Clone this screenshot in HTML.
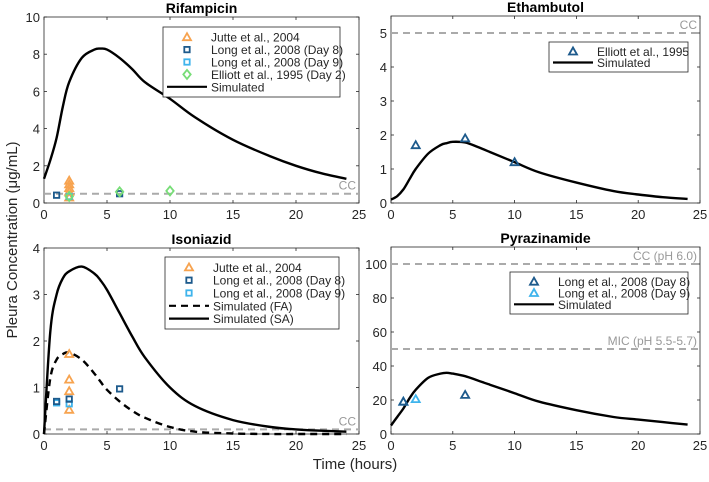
<!DOCTYPE html>
<html><head><meta charset="utf-8"><style>
body{margin:0;background:#fff;}
svg{display:block;font-family:"Liberation Sans",sans-serif;}
</style></head><body>
<svg id="fig" width="709" height="482" viewBox="0 0 709 482"></svg>
<script>
// ---- data ----
const timeGrid = [0,0.5,1,1.5,2,3,4,4.5,5,6,7,8,10,12,15,18,20,22,24];
const rifSim = [1.3,2.3,3.5,5.2,6.5,7.8,8.25,8.3,8.25,7.8,7.2,6.5,5.6,4.6,3.4,2.5,2.0,1.6,1.3];
const embSim = [0.1,0.2,0.4,0.7,1.0,1.45,1.7,1.76,1.8,1.78,1.65,1.5,1.2,0.9,0.6,0.35,0.25,0.17,0.12];
const inhSA  = [0,2.2,3.0,3.35,3.5,3.6,3.45,3.3,3.1,2.6,2.1,1.65,1.0,0.6,0.3,0.15,0.1,0.07,0.05];
const inhFA  = [0,1.2,1.6,1.72,1.75,1.6,1.3,1.12,0.95,0.7,0.5,0.35,0.15,0.05,0.01,0,0,0,0];
const pzaSim = [5,10,15,21,26,33,35.5,36,35.5,34,31.5,29,24,19,14,10,8.5,7,5.5];
const rifJutteT=[2,2,2,2,2], rifJutteY=[1.2,1.0,0.8,0.6,0.3];
const rifD8T=[1,6], rifD8Y=[0.42,0.5];
const rifD9T=[2], rifD9Y=[0.35];
const rifEllT=[2,6,10], rifEllY=[0.35,0.6,0.65];
const inhJutteT=[2,2,2,2], inhJutteY=[1.72,1.17,0.92,0.52];
const inhD8T=[1,2,6], inhD8Y=[0.7,0.75,0.97];
const inhD9T=[1,2], inhD9Y=[0.67,0.65];
const embEllT=[2,6,10], embEllY=[1.7,1.9,1.2];
const pzaD8T=[1,6], pzaD8Y=[19,23];
const pzaD9T=[1,2], pzaD9Y=[19,20.5];
const xTicks=[0,5,10,15,20,25];
const rifTicks=[0,2,4,6,8,10], embTicks=[0,1,2,3,4,5], inhTicks=[0,1,2,3,4], pzaTicks=[0,20,40,60,80,100];

const C={orange:'#f7a34f',dark:'#1d5a8c',light:'#3fb4ec',green:'#77dd77',grid:'#aaaaaa'};
const NS='http://www.w3.org/2000/svg';
const svg=document.getElementById('fig');
function mk(tag,attrs,parent,text){const e=document.createElementNS(NS,tag);for(const k in attrs)e.setAttribute(k,attrs[k]);if(text!==undefined)e.textContent=text;(parent||svg).appendChild(e);return e;}

function panel(o){
  const g=mk('g',{});
  
  
  const sx=v=>o.x0+(v/25)*(o.x1-o.x0);
  const sy=v=>o.y0-(v/o.ymax)*(o.y0-o.y1);
  o.sx=sx;o.sy=sy;o.g=g;
  const box=mk('rect',{x:o.x0,y:o.y1,width:o.x1-o.x0,height:o.y0-o.y1,fill:'none',stroke:'#262626','stroke-width':0.8},g);
  
  
  xTicks.forEach(t=>{
    mk('line',{x1:sx(t),x2:sx(t),y1:o.y0,y2:o.y0-3,stroke:'#262626','stroke-width':0.8},g);
    mk('line',{x1:sx(t),x2:sx(t),y1:o.y1,y2:o.y1+3,stroke:'#262626','stroke-width':0.8},g);
    const tx=mk('text',{x:sx(t),y:o.y0+16,'font-size':13,'text-anchor':'middle',fill:'#262626'},g,String(t));
    
    
  });
  o.yticks.forEach(t=>{
    mk('line',{x1:o.x0,x2:o.x0+3,y1:sy(t),y2:sy(t),stroke:'#262626','stroke-width':0.8},g);
    mk('line',{x1:o.x1,x2:o.x1-3,y1:sy(t),y2:sy(t),stroke:'#262626','stroke-width':0.8},g);
    const ty=mk('text',{x:o.x0-4,y:sy(t)+5,'font-size':13,'text-anchor':'end',fill:'#262626'},g,String(t));
    
    
  });
  const ti=mk('text',{x:(o.x0+o.x1)/2,y:o.y1-4,'font-size':14,'font-weight':'bold','text-anchor':'middle',fill:'#000'},g,o.title);
  
  
  return o;
}
function hline(o,v,label){
  const l=mk('line',{x1:o.x0,x2:o.x1,y1:o.sy(v),y2:o.sy(v),stroke:C.grid,'stroke-width':2,'stroke-dasharray':'7,5'},o.g);
  
  
  const t=mk('text',{x:o.x1-3,y:o.sy(v)-4,'font-size':12,'text-anchor':'end',fill:'#999'},o.g,label);
  
  
}
function curve(o,ys,dash,name){
  const P=timeGrid.map((t,i)=>[o.sx(t),o.sy(ys[i])]);
  let d='M'+P[0][0].toFixed(1)+','+P[0][1].toFixed(1);
  for(let i=0;i<P.length-1;i++){
    const p0=P[Math.max(0,i-1)],p1=P[i],p2=P[i+1],p3=P[Math.min(P.length-1,i+2)];
    const c1=[p1[0]+(p2[0]-p0[0])/6,p1[1]+(p2[1]-p0[1])/6];
    const c2=[p2[0]-(p3[0]-p1[0])/6,p2[1]-(p3[1]-p1[1])/6];
    d+=' C'+c1[0].toFixed(1)+','+c1[1].toFixed(1)+' '+c2[0].toFixed(1)+','+c2[1].toFixed(1)+' '+p2[0].toFixed(1)+','+p2[1].toFixed(1);
  }
  const p=mk('path',{d:d,fill:'none',stroke:'#000','stroke-width':2.4,'stroke-dasharray':dash||'none'},o.g);
  
  
}
function marker(parent,shape,x,y,col){
  let e;
  if(shape==='tri') e=mk('polygon',{points:`${x},${y-4} ${x-4},${y+3} ${x+4},${y+3}`,fill:'none',stroke:col,'stroke-width':1.8},parent);
  else if(shape==='sq') e=mk('rect',{x:x-2.7,y:y-2.7,width:5.4,height:5.4,fill:'none',stroke:col,'stroke-width':1.8},parent);
  else e=mk('polygon',{points:`${x},${y-4.5} ${x+3.7},${y} ${x},${y+4.5} ${x-3.7},${y}`,fill:'none',stroke:col,'stroke-width':1.8},parent);
  return e;
}
function points(o,ts,ys,shape,col,name){
  ts.forEach((t,i)=>{const m=marker(o.g,shape,o.sx(t),o.sy(ys[i]),col);
    
    });
}
function legend(x,y,w,h,items,name){
  const g=mk('g',{});
  
  
  mk('rect',{x:x,y:y,width:w,height:h,fill:'#fff',stroke:'#262626','stroke-width':0.8},g);
  const step=(h-8)/items.length;
  items.forEach((it,i)=>{
    const cy=y+4+step*(i+0.5);
    if(it.line!==undefined) mk('line',{x1:x+4,x2:x+44,y1:cy,y2:cy,stroke:'#000','stroke-width':2.2,'stroke-dasharray':it.line||'none'},g);
    else marker(g,it.shape,x+24,cy,it.col);
    const t=mk('text',{x:x+48,y:cy+4.5,'font-size':12,fill:'#262626'},g,it.label);
    
    
  });
}

const rif=panel({name:'rifampicin',title:'Rifampicin',x0:44,x1:359,y0:203,y1:17,ymax:10,yticks:rifTicks});
hline(rif,0.5,'CC');
curve(rif,rifSim,null,'rifampicin-simulated-line');
points(rif,rifJutteT,rifJutteY,'tri',C.orange,'jutte-point');
points(rif,rifD8T,rifD8Y,'sq',C.dark,'long-day8-point');
points(rif,rifD9T,rifD9Y,'sq',C.light,'long-day9-point');
points(rif,rifEllT,rifEllY,'dia',C.green,'elliott-point');
legend(163,27,177,70,[{shape:'tri',col:C.orange,label:'Jutte et al., 2004'},{shape:'sq',col:C.dark,label:'Long et al., 2008 (Day 8)'},{shape:'sq',col:C.light,label:'Long et al., 2008 (Day 9)'},{shape:'dia',col:C.green,label:'Elliott et al., 1995 (Day 2)'},{line:'',label:'Simulated'}],'rifampicin-legend');

const emb=panel({name:'ethambutol',title:'Ethambutol',x0:391,x1:700,y0:203,y1:16,ymax:5.5,yticks:embTicks});
hline(emb,5,'CC');
curve(emb,embSim,null,'ethambutol-simulated-line');
points(emb,embEllT,embEllY,'tri',C.dark,'elliott-point');
legend(549,42,139,30,[{shape:'tri',col:C.dark,label:'Elliott et al., 1995'},{line:'',label:'Simulated'}],'ethambutol-legend');

const inh=panel({name:'isoniazid',title:'Isoniazid',x0:44,x1:359,y0:434,y1:248,ymax:4,yticks:inhTicks});
hline(inh,0.1,'CC');
curve(inh,inhFA,'7,5','isoniazid-fa-line');
curve(inh,inhSA,null,'isoniazid-sa-line');
points(inh,inhJutteT,inhJutteY,'tri',C.orange,'jutte-point');
points(inh,inhD9T,inhD9Y,'sq',C.light,'long-day9-point');
points(inh,inhD8T,inhD8Y,'sq',C.dark,'long-day8-point');
legend(165,257,174,72,[{shape:'tri',col:C.orange,label:'Jutte et al., 2004'},{shape:'sq',col:C.dark,label:'Long et al., 2008 (Day 8)'},{shape:'sq',col:C.light,label:'Long et al., 2008 (Day 9)'},{line:'7,5',label:'Simulated (FA)'},{line:'',label:'Simulated (SA)'}],'isoniazid-legend');

const pza=panel({name:'pyrazinamide',title:'Pyrazinamide',x0:391,x1:700,y0:434,y1:247,ymax:110,yticks:pzaTicks});
hline(pza,100,'CC (pH 6.0)');
hline(pza,50,'MIC (pH 5.5-5.7)');
curve(pza,pzaSim,null,'pyrazinamide-simulated-line');
points(pza,pzaD9T,pzaD9Y,'tri',C.light,'long-day9-point');
points(pza,pzaD8T,pzaD8Y,'tri',C.dark,'long-day8-point');
legend(510,272,178,42,[{shape:'tri',col:C.dark,label:'Long et al., 2008 (Day 8)'},{shape:'tri',col:C.light,label:'Long et al., 2008 (Day 9)'},{line:'',label:'Simulated'}],'pyrazinamide-legend');

const yl=mk('text',{x:0,y:0,'font-size':15,'text-anchor':'middle',fill:'#262626',transform:'translate(17,240) rotate(-90)'},svg,'Pleura Concentration (μg/mL)');


const xl=mk('text',{x:355,y:469,'font-size':15,'text-anchor':'middle',fill:'#262626'},svg,'Time (hours)');


</script>
</body></html>
